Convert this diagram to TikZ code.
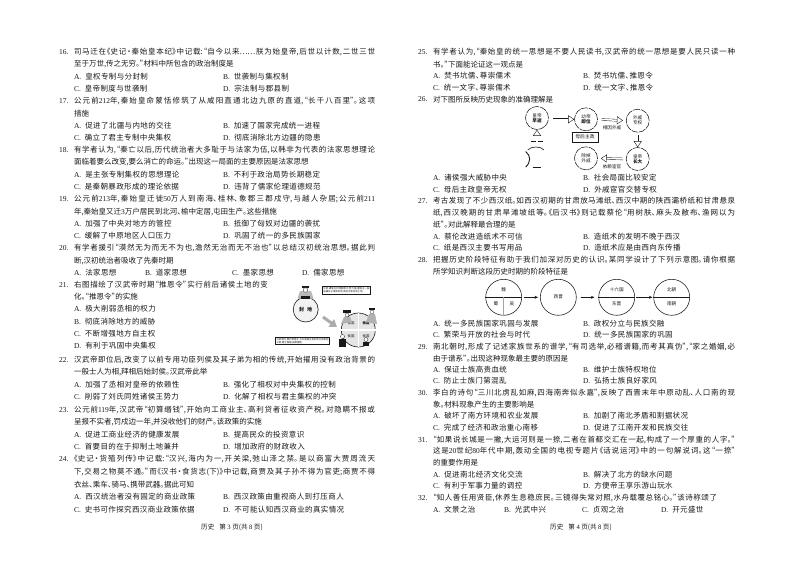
\documentclass[tikz,border=0pt]{standalone}
\usepackage{fontspec}
\usetikzlibrary{arrows.meta}
\setmainfont{Noto Sans CJK SC}[RawFeature=+halt]
\newfontfamily\optf{Noto Sans CJK SC}[RawFeature=+halt,LetterSpace=5]
\newfontfamily\lat{Liberation Serif}
\XeTeXlinebreaklocale "zh"
\XeTeXlinebreakskip=0pt plus 1pt minus 0.45pt
\tolerance=10000 \hbadness=10000 \hfuzz=20pt
\newcounter{tn}
\definecolor{ink}{gray}{0.1}
\tikzset{
 txt/.style={anchor=west,inner sep=0pt,outer sep=0pt,text=ink,font=\fontsize{7.5}{8}\selectfont},
 mini/.style={inner sep=0pt,text=ink,font=\fontsize{4.6}{5.2}\selectfont,align=center},
 ring/.style={circle,draw=ink,line width=.55pt,dash pattern=on 7pt off .9pt,minimum size=23pt,inner sep=0pt,text=ink,font=\fontsize{4.6}{5.4}\selectfont,align=center},
 plainring/.style={circle,draw=ink,line width=.55pt,minimum size=36pt,inner sep=0pt},
 hollow/.style={draw=ink,line width=.4pt,double=white,double distance=1.5pt,-{Triangle[open,fill=white,length=6pt,width=8pt]}},
 thinarrow/.style={draw=ink,line width=.55pt,-{Stealth[length=3.5pt,width=3pt]}},
 tinybox/.style={draw=ink,line width=.6pt,fill=white,inner sep=1pt,text=ink,font=\fontsize{2.4}{3}\selectfont,align=left},
}
\newcommand\JL[2]{\stepcounter{tn}\node[txt] (t\arabic{tn}) at (\ct,#1) {\parbox{\cw pt}{\parfillskip=0pt\noindent #2}};}
\newcommand\FL[3]{\stepcounter{tn}\node[txt] (t\arabic{tn}) at (#1,#2) {#3};}
\newcommand\QN[3]{\FL{\cn}{#2}{\lat #1.}\JL{#2}{#3}}
\newcommand\PL[2]{\FL{\ct}{#1}{#2}}
\newcommand\OL[3]{{\lat #1.}\hspace{4pt}{\optf #2}}
\newcommand\AB[5]{\FL{\ct}{#1}{\OL{#2}{#3}{}}\FL{\cb}{#1}{\OL{#4}{#5}{}}}
\newcommand\ABCD[8]{\FL{\ct}{#1}{\OL{A}{#2}{}}\FL{#3}{#1}{\OL{B}{#4}{}}\FL{#5}{#1}{\OL{C}{#6}{}}\FL{#7}{#1}{\OL{D}{#8}{}}}
\begin{document}
\begin{tikzpicture}[x=1pt,y=-1pt]
\path[use as bounding box,fill=white] (0,0) rectangle (794,562);
%% ---------- left column
\def\cn{59}\def\ct{74}\def\cw{301}\def\cb{223}
\QN{16}{52.3}{司马迁在《史记·秦始皇本纪》中记载:“自今以来……朕为始皇帝,后世以计数,二世三世}
\PL{64.5}{至于万世,传之无穷。”材料中所包含的政治制度是}
\AB{76.7}{A}{皇权专制与分封制}{B}{世袭制与集权制}
\AB{88.9}{C}{皇帝制度与世袭制}{D}{宗法制与郡县制}
\QN{17}{101.1}{公元前{\lat 212}年,秦始皇命蒙恬修筑了从咸阳直通北边九原的直道,“长千八百里”。这项}
\PL{113.3}{措施}
\AB{125.5}{A}{促进了北疆与内地的交往}{B}{加速了国家完成统一进程}
\AB{137.7}{C}{确立了君主专制中央集权}{D}{彻底消除北方边疆的隐患}
\QN{18}{149.9}{有学者认为,“秦亡以后,历代统治者大多耻于与法家为伍,以韩非为代表的法家思想理论}
\PL{162.1}{面临着要么改变,要么消亡的命运。”出现这一局面的主要原因是法家思想}
\AB{174.3}{A}{是主张专制集权的思想理论}{B}{不利于政治局势长期稳定}
\AB{186.5}{C}{是秦朝暴政形成的理论依据}{D}{违背了儒家伦理道德规范}
\QN{19}{199.3}{公元前{\lat 213}年,秦始皇迁徙{\lat 50}万人到南海、桂林、象郡三郡戍守,与越人杂居;公元前{\lat 211}}
\PL{211.7}{年,秦始皇又迁{\lat 3}万户居民到北河、榆中定居,屯田生产。这些措施}
\AB{223.3}{A}{加强了中央对地方的管控}{B}{抵御了匈奴对边疆的袭扰}
\AB{235.3}{C}{缓解了中原地区人口压力}{D}{巩固了统一的多民族国家}
\QN{20}{248.3}{有学者援引“漠然无为而无不为也,澹然无治而无不治也”以总结汉初统治思想。据此判}
\PL{260.7}{断,汉初统治者吸收了先秦时期}
\ABCD{272.7}{法家思想}{145}{道家思想}{232}{墨家思想}{302}{儒家思想}
{\def\cw{194}\QN{21}{285}{右图描绘了汉武帝时期“推恩令”实行前后诸侯土地的变}}
\PL{296.7}{化。“推恩令”的实施}
\PL{309}{\OL{A}{极大削弱丞相的权力}{}}
\PL{321.7}{\OL{B}{彻底消除地方的威胁}{}}
\PL{334}{\OL{C}{不断增强地方自主权}{}}
\PL{346}{\OL{D}{有利于巩固中央集权}{}}
\QN{22}{360}{汉武帝即位后,改变了以前专用功臣列侯及其子弟为相的传统,开始擢用没有政治背景的}
\PL{372.3}{一般士人为相,拜相后始封侯。汉武帝此举}
\AB{384.7}{A}{加强了丞相对皇帝的依赖性}{B}{强化了相权对中央集权的控制}
\AB{397}{C}{削弱了刘氏同姓诸侯王势力}{D}{化解了相权与君主集权的冲突}
\QN{23}{409.7}{公元前{\lat 119}年,汉武帝“初算缗钱”,开始向工商业主、高利贷者征收资产税。对隐瞒不报或}
\PL{422}{呈报不实者,罚戍边一年,并没收他们的财产。该政策的实施}
\AB{434.3}{A}{促进工商业经济的健康发展}{B}{提高民众的投资意识}
\AB{446.7}{C}{首要目的在于抑制土地兼并}{D}{增加政府的财政收入}
\QN{24}{459.3}{《史记·货殖列传》中记载:“汉兴,海内为一,开关梁,弛山泽之禁。是以商富大贾周流天}
\JL{471.7}{下,交易之物莫不通。”而《汉书·食货志(下)》中记载,商贾及其子孙不得为官吏;商贾不得}
\PL{484.3}{衣丝、乘车、骑马、携带武器。据此可知}
\AB{497}{A}{西汉统治者没有固定的商业政策}{B}{西汉政策由重视商人到打压商人}
\AB{509.3}{C}{史书可作探究西汉商业政策依据}{D}{不可能认知西汉商业的真实情况}
\node[txt,anchor=center,font=\fontsize{6.6}{8}\selectfont] (footL) at (232,527.7) {历史\hspace{5pt}第 {\lat 3} 页(共 {\lat 8} 页)};
%% ---------- right column
\def\cn{418}\def\ct{433}\def\cw{302}\def\cb{583}
\QN{25}{52.3}{有学者认为,“秦始皇的统一思想是不要人民读书,汉武帝的统一思想是要人民只读一种}
\PL{64.3}{书。”下面能论证这一观点是}
\AB{75.7}{A}{焚书坑儒、尊崇儒术}{B}{焚书坑儒、推恩令}
\AB{87.3}{C}{统一文字、尊崇儒术}{D}{统一文字、推恩令}
\FL{\cn}{99.3}{\lat 26.}\PL{99.3}{对下图所反映历史现象的准确理解是}
\AB{177.7}{A}{诸侯强大威胁中央}{B}{社会局面比较安定}
\AB{190}{C}{母后主政皇帝无权}{D}{外戚宦官交替专权}
\QN{27}{201}{考古发现了不少西汉纸。如西汉初期的甘肃放马滩纸、西汉中期的陕西灞桥纸和甘肃悬泉}
\JL{213}{纸,西汉晚期的甘肃旱滩坡纸等。《后汉书》则记载蔡伦“用树肤、麻头及敝布、渔网以为}
\PL{224.7}{纸”。对此解释最合理的是}
\AB{236.3}{A}{蔡伦改进造纸术不可信}{B}{造纸术的发明不晚于西汉}
\AB{248}{C}{纸是西汉主要书写用品}{D}{造纸术应是由西向东传播}
\QN{28}{259.7}{把握历史阶段特征有助于我们加深对历史的认识。某同学设计了下列示意图。请你根据}
\PL{271.3}{所学知识判断这段历史时期的阶段特征是}
\AB{323.3}{A}{统一多民族国家巩固与发展}{B}{政权分立与民族交融}
\AB{334.7}{C}{繁荣与开放的社会与时代}{D}{统一多民族国家的巩固}
\QN{29}{346.7}{南北朝时,形成了记述家族世系的谱学,“有司选举,必稽谱籍,而考其真伪”,“家之婚姻,必}
\PL{358.3}{由于谱系”。出现这种现象最主要的原因是}
\AB{370}{A}{保证士族高贵血统}{B}{维护士族特权地位}
\AB{381}{C}{防止士族门第混乱}{D}{弘扬士族良好家风}
\QN{30}{393}{李白的诗句“三川北虏乱如麻,四海南奔似永嘉”,反映了西晋末年中原动乱、人口南的现}
\PL{404.7}{象。材料现象产生的主要影响是}
\AB{416}{A}{破坏了南方环境和农业发展}{B}{加剧了南北矛盾和割据状况}
\AB{427.7}{C}{完成了经济和政治重心南移}{D}{促进了江南开发和民族交往}
\QN{31}{439.7}{“如果说长城是一撇,大运河则是一捺,二者在首都交汇在一起,构成了一个厚重的人字。”}
\JL{451}{这是{\lat 20}世纪{\lat 80}年代中期,轰动全国的电视专题片《话说运河》中的一句解说词。这“一捺”}
\PL{462.7}{的重要作用是}
\AB{474.3}{A}{促进南北经济文化交流}{B}{解决了北方的缺水问题}
\AB{486}{C}{有利于军事力量的调控}{D}{方便帝王享乐游山玩水}
{\def\cw{284}\QN{32}{498}{“知人善任用贤臣,休养生息稳庶民。三镜得失常对照,水舟载覆总铭心。”该诗称颂了}}
\ABCD{509.7}{文景之治}{504}{光武中兴}{582}{贞观之治}{661}{开元盛世}
\node[txt,anchor=center,font=\fontsize{6.6}{8}\selectfont] (footR) at (581,527.7) {历史\hspace{5pt}第 {\lat 4} 页(共 {\lat 8} 页)};
%% ---------- diagram of question 26
\node[ring] (a1) at (537,118) {皇帝\\[-.5pt]\textbf{早逝}};
\node[ring] (a2) at (586,119.3) {幼帝\\[-.5pt]\textbf{即位}};
\node[ring] (a3) at (637.7,120.7) {外戚\\[-.5pt]专权};
\node[ring] (a4) at (637.7,159) {皇帝\\[-.5pt]\textbf{长大}};
\node[ring] (a5) at (586,158.3) {除掉\\[-.5pt]外戚};
\coordinate (a0top) at (537,141.5);
\coordinate (a1e) at (553,119.3);
\draw[ink,line width=.6pt] (527.7,150) .. controls (531,146) and (541,146) .. (544,150);
\draw[ink,line width=.9pt] (525.7,151.5) .. controls (531,156) and (531,162) .. (525.7,167);
\draw[ink,line width=.6pt] (533.3,167.7) -- (541,167.7);
\draw[ink,line width=.6pt] (531,141.5) -- (543,141.5);
\draw[hollow] (a0top) -- (a1.south);
\draw[hollow] (a1e) -- (a2.west);
\draw[hollow,shorten <=4pt,shorten >=3pt] (a2.east) -- (a3.west);
\draw[hollow,shorten <=3pt] (a3.south) -- (a4.north);
\draw[hollow,shorten <=3pt,shorten >=3pt] (a4.west) -- (a5.east);
\node[mini] (a23) at (612,128) {相因外戚};
\node[mini] (a45) at (612,166.7) {依赖宦官};
\node[draw=ink,line width=.55pt,inner sep=1.2pt,text=ink,minimum width=26pt,minimum height=10pt,font=\fontsize{4.8}{5.4}\selectfont] (a6) at (585,137) {母后主政};
%% ---------- diagram of question 28
\node[plainring] (b1) at (503.7,297.3) {};
\node[plainring] (b2) at (558.3,297.3) {};
\node[plainring] (b3) at (616.7,297.3) {};
\node[plainring] (b4) at (671.7,297.3) {};
\draw[ink,line width=.6pt] (b1.west) -- (b1.east);
\draw[gray!70,line width=1pt] (b1.center) -- (b1.south);
\draw[ink,line width=.6pt] (b3.west) -- (b3.east);
\draw[ink,line width=.6pt] (b4.west) -- (b4.east);
\node[mini] (b1a) at (503.7,290) {魏};
\node[mini] (b1b) at (496,303.5) {蜀};
\node[mini] (b1c) at (512,303.5) {吴};
\node[mini] (b2a) at (558.3,297) {西晋};
\node[mini] (b3a) at (616.7,290) {十六国};
\node[mini] (b3b) at (616.7,304) {东晋};
\node[mini] (b4a) at (671.7,290) {北朝};
\node[mini] (b4b) at (671.7,304) {南朝};
\draw[thinarrow,shorten <=2pt,shorten >=2pt] (b1.east) -- (b2.west);
\draw[thinarrow,shorten <=4pt,shorten >=4pt] (b2.east) -- (b3.west);
\draw[thinarrow,shorten <=1pt,shorten >=1pt] (b3.east) -- (b4.west);
%% ---------- picture of question 21
\node[circle,draw=ink,fill=gray!10,line width=.6pt,minimum size=25pt,inner sep=0pt,text=ink,font=\bfseries\fontsize{5}{6}\selectfont] (c1) at (305.7,309.5) {封\hspace{3pt}地};
\fill[gray!55] (297.5,298.5) -- (300,291) -- (311,291) -- (313.5,298.5) -- cycle;
\fill[ink] (302,285.5) rectangle (309,288);
\fill[white,draw=ink,line width=.3pt] (305.5,290) circle (2.3pt);
\fill[ink] (301,296) rectangle (310,298.5);
\node[tinybox] (c2) at (346.4,290.5) {\parbox{46pt}{汉初,诸侯王封地面积大,势力强,诸侯王一般由嫡长子继承封地,其他子弟没有土地。}};
\node[tinybox] (c3) at (302.5,340.8) {\parbox{52pt}{汉武帝时,推行推恩令,允许诸侯王将封地分给其他子弟,建立侯国,由郡管辖。}};
\node[circle,draw=ink,fill=gray!20,line width=.6pt,minimum size=34pt,inner sep=0pt] (c4) at (358.3,330) {};
\draw[white,line width=1.2pt] (c4.west) -- (c4.east) (c4.north) -- (c4.south);
\node[mini,font=\fontsize{3.4}{4}\selectfont] (c5) at (351,323.5) {侯国};
\node[mini,font=\bfseries\fontsize{3.4}{4}\selectfont] (c6) at (366,323.5) {侯国};
\node[mini,font=\fontsize{3.4}{4}\selectfont] (c7) at (351,336.5) {侯国};
\node[mini,font=\fontsize{3.4}{4}\selectfont] (c8) at (366,336.5) {侯国};
\coordinate (c9) at (323,317);
\coordinate (c10) at (337,327);
\draw[gray!65,line width=3pt,-{Triangle[length=7pt,width=9pt]}] (c9) -- (c10);
\fill[ink] (343,310) rectangle (351,313);
\fill[white,draw=ink,line width=.3pt] (347,315) circle (2pt);
\fill[gray!60] (341,324) -- (344,317) -- (350,317) -- (352,322) -- cycle;
\fill[ink] (369,307.5) rectangle (375,310);
\fill[white,draw=ink,line width=.3pt] (372,312) circle (2pt);
\fill[gray!60] (366,322) -- (369,314) -- (375,314) -- (377,324) -- cycle;
\fill[ink] (339,339) rectangle (346,347);
\fill[white,draw=ink,line width=.3pt] (342.5,336.5) circle (2pt);
\fill[ink] (363,342) rectangle (369,346);
\fill[white,draw=ink,line width=.3pt] (366,339.5) circle (2pt);
\end{tikzpicture}
\end{document}
